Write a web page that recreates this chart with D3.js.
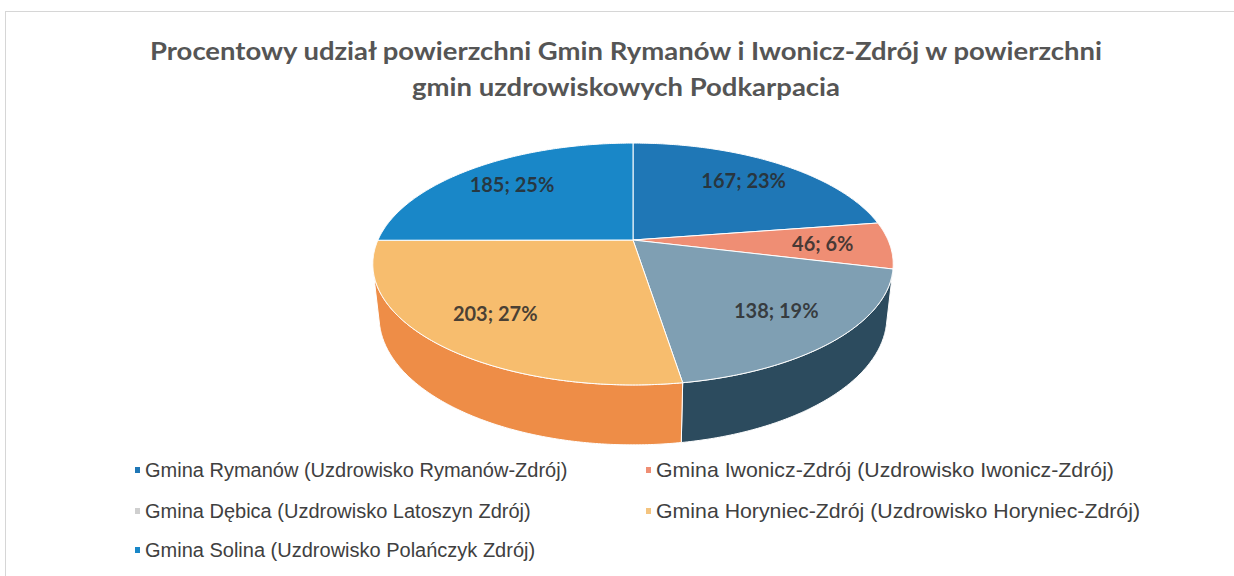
<!DOCTYPE html>
<html>
<head>
<meta charset="utf-8">
<script src="https://cdn.jsdelivr.net/npm/d3@7"></script>
<style>
  body { margin: 0; background: #fff; }
</style>
</head>
<body>
<div id="chart"></div>
<script>
// dane: powierzchnia gmin (km2)
var gminy = [
  "Gmina Rymanów (Uzdrowisko Rymanów-Zdrój)",
  "Gmina Iwonicz-Zdrój (Uzdrowisko Iwonicz-Zdrój)",
  "Gmina Dębica (Uzdrowisko Latoszyn Zdrój)",
  "Gmina Horyniec-Zdrój (Uzdrowisko Horyniec-Zdrój)",
  "Gmina Solina (Uzdrowisko Polańczyk Zdrój)"
];
var powierzchnia = [167, 46, 138, 203, 185];
var tytul = [
  "Procentowy udział powierzchni Gmin Rymanów i Iwonicz-Zdrój w powierzchni",
  "gmin uzdrowiskowych Podkarpacia"
];

var kolory = ["#1f77b6", "#ef8e74", "#7f9fb3", "#f7bd6e", "#1987c8"];
var koloryBok = ["#15507e", "#b0614e", "#2c4b5e", "#ee8d47", "#0f5e8e"];
var koloryLegendy = ["#1f77b6", "#ef8e74", "#cfcfcf", "#f4c47f", "#1987c8"];

var width = 1234, height = 576;

var svg = d3.select("#chart").append("svg")
  .attr("width", width)
  .attr("height", height);

// ramka wykresu
svg.append("rect")
  .attr("x", 5.5).attr("y", 11.5)
  .attr("width", 1300).attr("height", 700)
  .attr("fill", "none").attr("stroke", "#d6d6d6");

// tytul
svg.selectAll("text.tytul")
  .data(tytul)
  .enter().append("text")
  .attr("class", "tytul")
  .attr("x", 626)
  .attr("y", function (d, i) { return 60 + i * 36; })
  .attr("text-anchor", "middle")
  .style("font-family", "Lato, 'Open Sans', sans-serif")
  .style("font-weight", "bold")
  .style("font-size", "24px")
  .style("fill", "#555")
  .attr("textLength", function (d, i) { return i == 0 ? 952 : 428; })
  .attr("lengthAdjust", "spacingAndGlyphs")
  .text(function (d) { return d; });

// rzut perspektywiczny tarczy 3D
var cx = 633, cy = 240,
  F = 1144, L = 4.486,
  phi = 27.1 * Math.PI / 180,
  s = Math.sin(phi), c = Math.cos(phi),
  h = 0.233;

function proj(x, Y, z) {
  var depth = L - Y * s + z * c;
  var up = Y * c + z * s;
  return [cx + F * x / depth, cy - F * up / depth];
}

function obwod(a0, a1, Y) {
  var n = Math.max(2, Math.ceil((a1 - a0) / 0.01) + 1);
  return d3.range(n).map(function (i) {
    var a = a0 + (a1 - a0) * i / (n - 1);
    return proj(Math.sin(a), Y, Math.cos(a));
  });
}

var pie = d3.pie().sort(null).value(function (d) { return d; });
var arcs = pie(powierzchnia);
var total = d3.sum(powierzchnia);
var fmt = d3.format(".0%");
var line = d3.line();

// widoczna czesc boku (zwrocona do kamery)
var D = L * c;
var sLo = Math.acos(-1 / D), sHi = 2 * Math.PI - sLo;

var boki = svg.append("g");
arcs.forEach(function (d, i) {
  var a0 = Math.max(d.startAngle, sLo), a1 = Math.min(d.endAngle, sHi);
  if (a1 <= a0) return;
  var pts = obwod(a0, a1, 0).concat(obwod(a0, a1, -h).reverse());
  boki.append("path")
    .attr("d", line(pts) + "Z")
    .attr("fill", koloryBok[i])
    .attr("stroke", "#fff")
    .attr("stroke-width", 1)
    .attr("stroke-linejoin", "round");
});

var gora = svg.append("g");
gora.selectAll("path")
  .data(arcs)
  .enter().append("path")
  .attr("d", function (d) {
    return line([proj(0, 0, 0)].concat(obwod(d.startAngle, d.endAngle, 0))) + "Z";
  })
  .attr("fill", function (d, i) { return kolory[i]; })
  .attr("stroke", "#fff")
  .attr("stroke-width", 1)
  .attr("stroke-linejoin", "round");

// etykiety danych
gora.selectAll("text")
  .data(arcs)
  .enter().append("text")
  .attr("transform", function (d) {
    var a = (d.startAngle + d.endAngle) / 2, r = 0.74;
    var p = proj(r * Math.sin(a), 0, r * Math.cos(a));
    return "translate(" + p[0] + "," + p[1] + ")";
  })
  .attr("text-anchor", "middle")
  .attr("dy", "0.35em")
  .style("font-family", "Lato, 'Open Sans', sans-serif")
  .style("font-weight", "bold")
  .style("font-size", "20px")
  .style("fill", "#2a2a2a")
  .style("fill-opacity", 0.85)
  .text(function (d) { return d.value + "; " + fmt(d.value / total); });

// legenda
var legX = [135, 646], legY = [470, 511, 550], legSkala = [1.0, 1.065];
var leg = svg.append("g").selectAll("g")
  .data(gminy)
  .enter().append("g")
  .attr("transform", function (d, i) {
    return "translate(" + legX[i % 2] + "," + legY[Math.floor(i / 2)] + ")";
  });

leg.append("rect")
  .attr("x", 0).attr("y", -3)
  .attr("width", 5).attr("height", 6)
  .attr("fill", function (d, i) { return koloryLegendy[i]; });

leg.append("text")
  .attr("transform", function (d, i) { return "translate(10,0) scale(" + legSkala[i % 2] + ",1)"; })
  .attr("dy", "0.36em")
  .style("font-family", "'Liberation Sans', Arial, sans-serif")
  .style("font-size", "20px")
  .style("fill", "#404040")
  .text(function (d) { return d; });
</script>
</body>
</html>
